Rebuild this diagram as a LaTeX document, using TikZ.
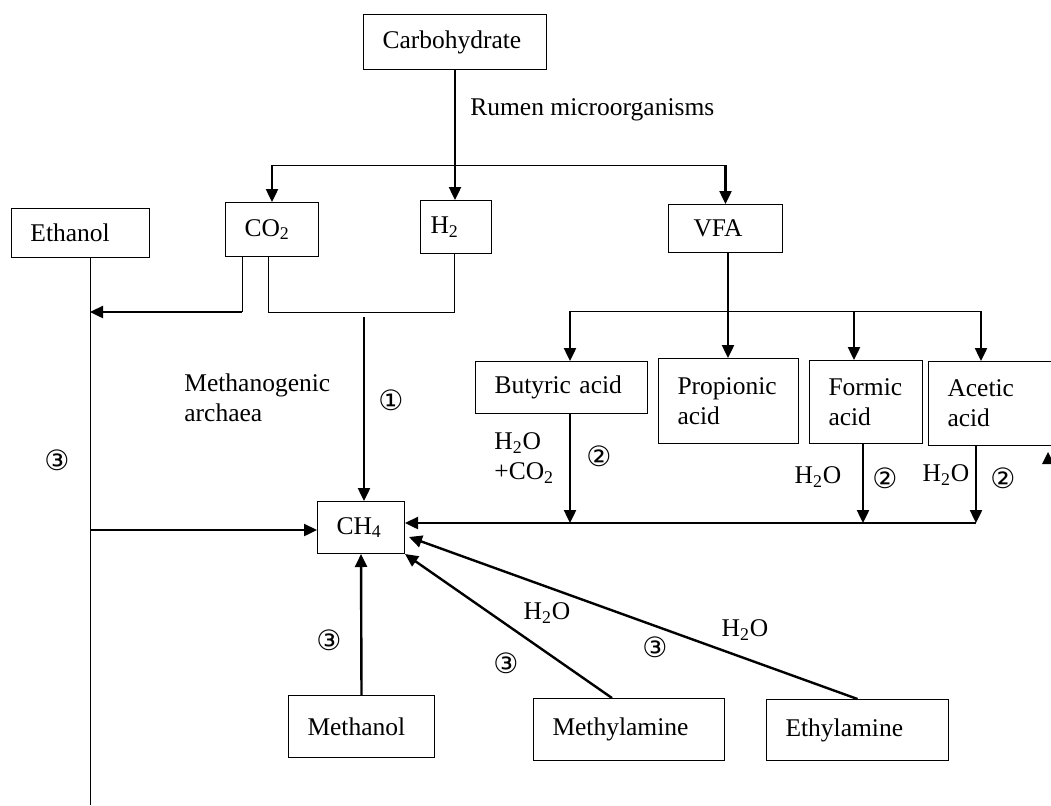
\documentclass[tikz,border=0pt]{standalone}
\usepackage{fontspec}
\setmainfont{Liberation Serif}
\newfontfamily\circfont{DejaVu Sans}
\usetikzlibrary{arrows.meta}

\begin{document}
\begin{tikzpicture}[x=0.5pt,y=-0.5pt,
	every node/.style={font=\fontsize{12.75}{15}\selectfont},
	box/.style={draw,line width=0.5pt,anchor=north west,inner xsep=9.5pt,inner ysep=0pt,align=left},
	lbl/.style={inner sep=0pt},
	num/.style={inner sep=0pt,font=\circfont\fontsize{14}{15}\selectfont},
	arr/.style={-{Triangle[length=6.5pt,width=6pt]},line width=1.2pt},
	link/.style={line width=0.5pt}]
		\clip (0,0) rectangle (1051,805);
		\node[box,text width=72.5pt,minimum height=27.5pt] (carb) at (363,14) {Carbohydrate};
		\node[box,text width=50pt,minimum height=24.5pt] (ethanol) at (11,208) {Ethanol};
		\node[box,text width=27.5pt,minimum height=27pt] (co2) at (225,202) {CO\textsubscript{2}};
		\node[box,inner xsep=5pt,text width=25.5pt,minimum height=26.5pt] (h2) at (420,200) {H\textsubscript{2}};
		\node[box,inner xsep=12.5pt,text width=32pt,minimum height=24pt] (vfa) at (668,204) {VFA};
		\node[box,text width=67pt,minimum height=26pt] (butyric) at (475,361) {Butyric acid};
		\node[box,text width=51pt,minimum height=42.5pt] (propionic) at (658,358) {Propionic\\acid};
		\node[box,text width=37.5pt,minimum height=41.5pt] (formic) at (809,360) {Formic\\acid};
		\node[box,text width=51pt,minimum height=42pt] (acetic) at (928,361) {Acetic\\acid};
		\node[box,text width=24.5pt,minimum height=26pt] (ch4) at (317,501) {CH\textsubscript{4}};
		\node[box,text width=54pt,minimum height=31pt] (methanol) at (288,695) {Methanol};
		\node[box,text width=76.5pt,minimum height=31pt] (methylamine) at (533,698) {Methylamine};
		\node[box,text width=72pt,minimum height=30.5pt] (ethylamine) at (766,699) {Ethylamine};

		\coordinate (split) at (270,165);
		\coordinate (ethin) at (90,312);
		\coordinate (ethout) at (90,530);
		\coordinate (ethend) at (90,805);
		\coordinate (co2l) at (242,312);
		\coordinate (co2r) at (268,312);
		\coordinate (h2b) at (454,312);
		\coordinate (meth) at (364,317);
		\coordinate (vfab) at (728,311);
		\coordinate (butl) at (570,311);
		\coordinate (fort) at (854,311);
		\coordinate (acer) at (981,311);
		\coordinate (butb) at (570,523);
		\coordinate (forb) at (863,523);
		\coordinate (aceb) at (976,523);
		\coordinate (mlam) at (612,698);
		\coordinate (elam) at (409,537);

		\draw[arr] (carb.south) -- (carb.south |- h2.north);
		\draw[link] (co2.north |- split) -- (vfa.north |- split);
		\draw[arr] (co2.north |- split) -- (co2.north);
		\draw[arr] (vfa.north |- split) -- (vfa.north);
		\draw[link] (ethanol.south -| ethend) -- (ethend);
		\draw[link] (co2.south -| co2l) -- (co2l);
		\draw[arr] (co2l) -- (ethin);
		\draw[link] (co2.south -| co2r) -- (co2r) -- (h2b) -- (h2.south -| h2b);
		\draw[arr] (meth) -- (meth |- ch4.north);
		\draw[arr] (ethout) -- (ethout -| ch4.west);
		\draw[arr] (vfa.south -| vfab) -- (vfab |- propionic.north);
		\draw[link] (butl) -- (acer);
		\draw[arr] (butl) -- (butl |- butyric.north);
		\draw[arr] (fort) -- (fort |- formic.north);
		\draw[arr] (acer) -- (acer |- acetic.north);
		\draw[arr] (butyric.south -| butb) -- (butb);
		\draw[arr] (formic.south -| forb) -- (forb);
		\draw[arr] (acetic.south -| aceb) -- (aceb);
		\draw[arr] (aceb) -- (aceb -| ch4.east);
		\draw[arr] (methanol.north) -- (ch4.south);
		\draw[arr] (mlam) -- (ch4.south east);
		\draw[arr] (ethylamine.north) -- (elam);
		\fill (1042,464) -- (1048,452) -- (1054,464) -- cycle;

		\node[lbl,anchor=west] (rumen) at (470,110) {Rumen microorganisms};
		\node[lbl,anchor=west,align=left] (archaea) at (184,398) {Methanogenic\\archaea};
		\node[lbl,anchor=west,align=left] (butwater) at (494,458) {H\textsubscript{2}O\\+CO\textsubscript{2}};
		\node[lbl] (forwater) at (818,477) {H\textsubscript{2}O};
		\node[lbl] (acewater) at (946,475) {H\textsubscript{2}O};
		\node[lbl] (mlamwater) at (547,613) {H\textsubscript{2}O};
		\node[lbl] (elamwater) at (745,630) {H\textsubscript{2}O};
		\node[num] (one) at (391,400) {①};
		\node[num] (ethnum) at (57,460) {③};
		\node[num] (butnum) at (599,456) {②};
		\node[num] (fornum) at (885,478) {②};
		\node[num] (acenum) at (1003,478) {②};
		\node[num] (methnum) at (329,640) {③};
		\node[num] (mlamnum) at (506,663) {③};
		\node[num] (elamnum) at (655,647) {③};
\end{tikzpicture}
\end{document}
